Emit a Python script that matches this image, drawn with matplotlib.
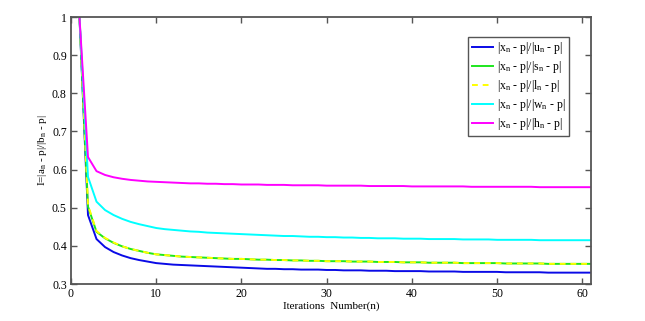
import matplotlib
matplotlib.use("Agg")
import matplotlib.pyplot as plt
from matplotlib.ticker import FormatStrFormatter

plt.rcParams['font.family'] = ['Liberation Serif', 'DejaVu Serif']
plt.rcParams['mathtext.fontset'] = 'custom'
plt.rcParams['mathtext.rm'] = 'Liberation Serif'
plt.rcParams['mathtext.it'] = 'Liberation Serif'

n = list(range(1, 62))

# ratio |x_n - p| / |u_n - p|
ratio_u = [1.000, .481, .418, .397, .384, .375, .368, .363, .359, .355,
           .353, .351, .350, .349, .348, .347, .346, .345, .344, .343,
           .342, .341, .340, .340, .339, .339, .338, .338, .338, .337,
           .337, .336, .336, .336, .335, .335, .335, .334, .334, .334,
           .334, .333, .333, .333, .333, .332, .332, .332, .332, .332,
           .331, .331, .331, .331, .331, .330, .330, .330, .330, .330,
           .330]
# ratio |x_n - p| / |s_n - p|
ratio_s = [1.000, .503, .437, .420, .408, .399, .392, .387, .382, .378,
           .376, .374, .372, .371, .370, .369, .368, .367, .366, .366,
           .365, .364, .364, .363, .363, .362, .362, .361, .361, .360,
           .360, .360, .359, .359, .359, .358, .358, .358, .357, .357,
           .357, .356, .356, .356, .356, .355, .355, .355, .355, .355,
           .354, .354, .354, .354, .354, .353, .353, .353, .353, .353,
           .353]
# ratio |x_n - p| / |l_n - p|
ratio_l = [1.000, .507, .439, .421, .409, .399, .392, .387, .382, .378,
           .376, .374, .372, .371, .370, .369, .368, .367, .366, .366,
           .365, .364, .364, .363, .363, .362, .362, .361, .361, .360,
           .360, .360, .359, .359, .359, .358, .358, .358, .357, .357,
           .357, .356, .356, .356, .356, .355, .355, .355, .355, .355,
           .354, .354, .354, .354, .354, .353, .353, .353, .353, .353,
           .353]
# ratio |x_n - p| / |w_n - p|
ratio_w = [1.000, .581, .516, .494, .481, .471, .463, .457, .452, .447,
           .444, .442, .440, .438, .437, .435, .434, .433, .432, .431,
           .430, .429, .428, .427, .426, .426, .425, .424, .424, .423,
           .423, .422, .422, .421, .421, .420, .420, .420, .419, .419,
           .419, .418, .418, .418, .418, .417, .417, .417, .417, .416,
           .416, .416, .416, .416, .415, .415, .415, .415, .415, .415,
           .415]
# ratio |x_n - p| / |h_n - p|
ratio_h = [1.000, .633, .596, .586, .580, .576, .573, .571, .569, .568,
           .567, .566, .565, .564, .564, .563, .563, .562, .562, .561,
           .561, .561, .560, .560, .560, .559, .559, .559, .559, .558,
           .558, .558, .558, .558, .557, .557, .557, .557, .557, .556,
           .556, .556, .556, .556, .556, .556, .555, .555, .555, .555,
           .555, .555, .555, .555, .554, .554, .554, .554, .554, .554,
           .554]

labels = [r'|x$_{n}$ - p|/|u$_{n}$ - p|',
          r'|x$_{n}$ - p|/|s$_{n}$ - p|',
          r'|x$_{n}$ - p|/|l$_{n}$ - p|',
          r'|x$_{n}$ - p|/|w$_{n}$ - p|',
          r'|x$_{n}$ - p|/|h$_{n}$ - p|']

fig = plt.figure(figsize=(6.45, 3.21), dpi=100)
ax = fig.add_axes([0.110, 0.115, 0.806, 0.832])

ax.plot(n, ratio_u, color='#0a0ae6', lw=1.4, label=labels[0])
ax.plot(n, ratio_s, color='#1ee61e', lw=1.4, label=labels[1])
ax.plot(n, ratio_l, color='#ffff00', lw=1.4, dashes=(3, 2.5), label=labels[2])
ax.plot(n, ratio_w, color='#00ffff', lw=1.4, label=labels[3])
ax.plot(n, ratio_h, color='#ff00ff', lw=1.4, label=labels[4])

ax.set_xlim(0, 61)
ax.set_ylim(0.3, 1)
ax.set_xticks([0, 10, 20, 30, 40, 50, 60])
ax.set_yticks([0.3, 0.4, 0.5, 0.6, 0.7, 0.8, 0.9, 1.0])
ax.yaxis.set_major_formatter(FormatStrFormatter('%g'))
ax.tick_params(direction='in', top=True, right=True, length=4, width=1,
               color='#555555', labelsize=8.5, pad=3)
for s in ax.spines.values():
    s.set_color('#555555')
    s.set_linewidth(1.3)

ax.set_xlabel('Iterations  Number(n)', fontsize=8, labelpad=1)
ax.set_ylabel(r'I=|a$_{n}$ - p|/|b$_{n}$ - p|', fontsize=8, labelpad=2)

leg = ax.legend(loc='upper right', bbox_to_anchor=(0.962, 0.935), fontsize=8.5,
                fancybox=False, framealpha=1, edgecolor='#555555',
                handlelength=1.8, handletextpad=0.3, labelspacing=0.25,
                borderpad=0.3, borderaxespad=0.2)
leg.get_frame().set_linewidth(1.0)

fig.savefig('out.png', dpi=100)
